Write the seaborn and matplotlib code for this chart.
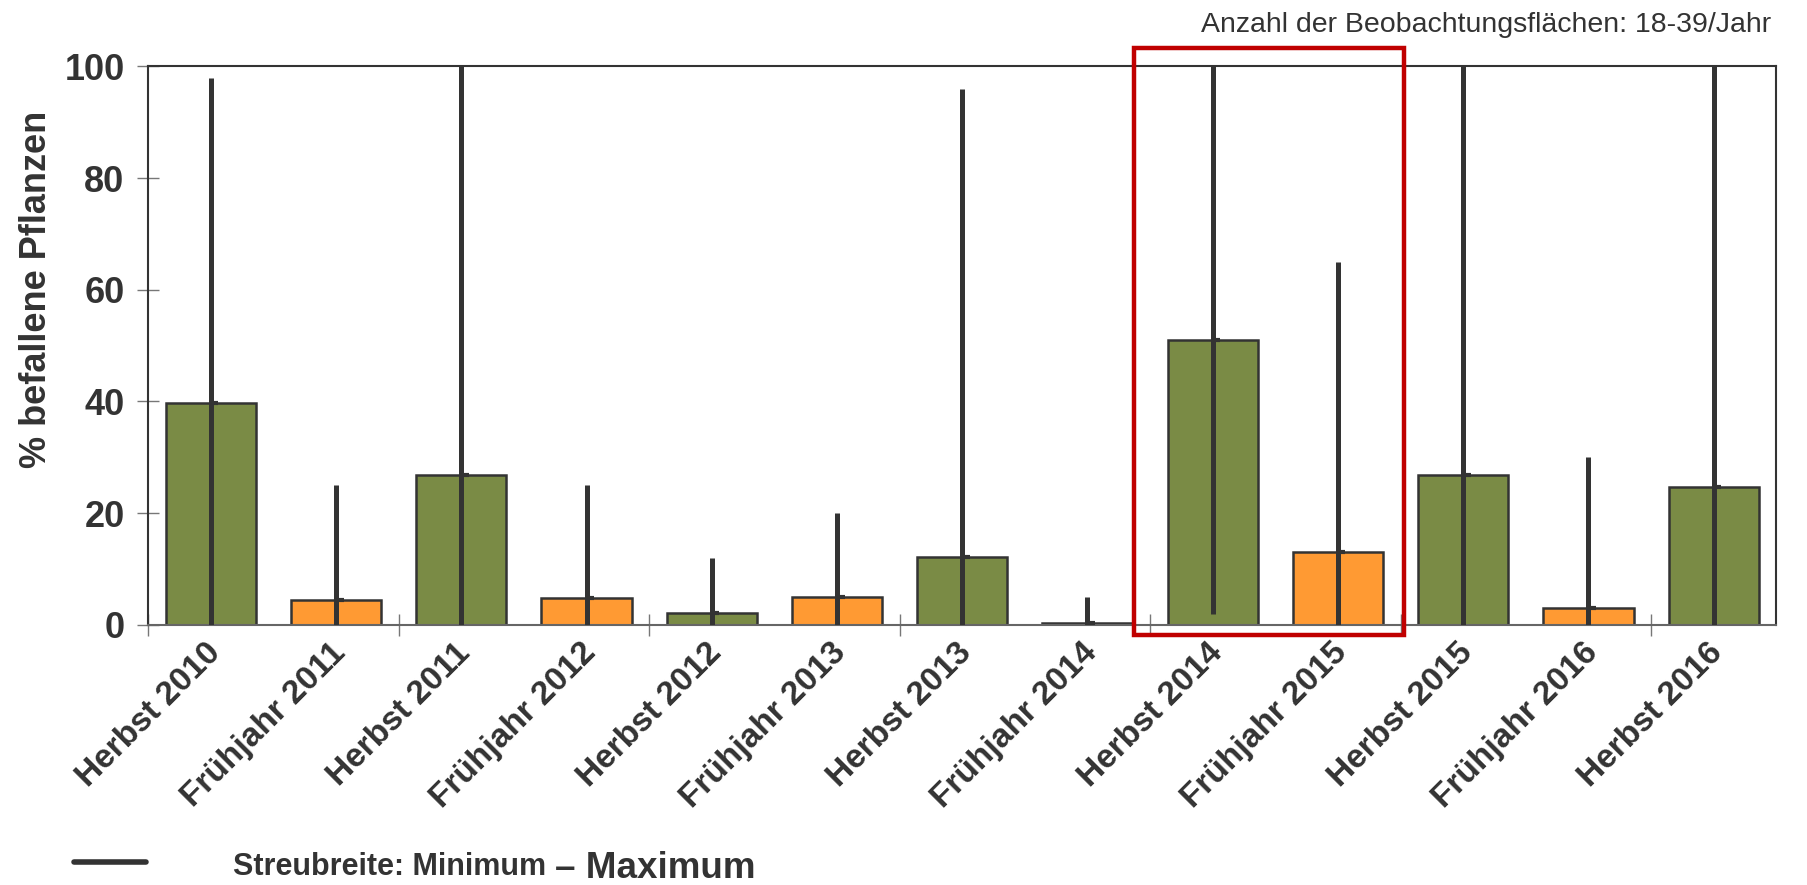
import numpy as np
import pandas as pd
import matplotlib
matplotlib.use("Agg")
import matplotlib.pyplot as plt
import seaborn as sns
from matplotlib import font_manager
from matplotlib.patches import Rectangle

# Daten
labels = ["Herbst 2010", "Frühjahr 2011", "Herbst 2011", "Frühjahr 2012", "Herbst 2012",
          "Frühjahr 2013", "Herbst 2013", "Frühjahr 2014", "Herbst 2014", "Frühjahr 2015",
          "Herbst 2015", "Frühjahr 2016", "Herbst 2016"]
season = ["Herbst", "Frühjahr"] * 6 + ["Herbst"]
mittel = [39.8, 4.5, 26.8, 4.8, 2.2, 5.0, 12.2, 0.4, 51.0, 13.0, 26.8, 3.0, 24.7]
minimum = [0, 0, 0, 0, 0, 0, 0, 0, 2, 0, 0, 0, 0]
maximum = [98, 25, 100, 25, 12, 20, 96, 5, 100, 65, 100, 30, 100]

df = pd.DataFrame({"label": labels, "season": season, "mittel": mittel,
                   "min": minimum, "max": maximum})

sns.set_theme(style="ticks")
plt.rcParams['font.family'] = ['Liberation Sans', 'DejaVu Sans']
dark = "#333333"

# schmale Schrift fuer die Legende, falls vorhanden
names = {f.name for f in font_manager.fontManager.ttflist}
narrow = "Liberation Sans Narrow" in names

fig = plt.figure(figsize=(18.07, 8.85), dpi=100)
ax = fig.add_axes([0.082, 0.294, 0.901, 0.631])

sns.barplot(data=df, x="label", y="mittel", hue="season",
            palette={"Herbst": "#7a8b45", "Frühjahr": "#ff9a33"},
            saturation=1, dodge=False, width=0.72, edgecolor=dark, linewidth=1.8,
            legend=False, ax=ax)

# Streubreite
xs = np.arange(len(labels))
ax.vlines(xs, df["min"], df["max"], color=dark, linewidth=3.6, zorder=5)
ax.hlines(df["mittel"], xs, xs + 0.06, color=dark, linewidth=3.0, zorder=5)

ax.set_xlim(-0.5, len(labels) - 0.5)
ax.set_ylim(0, 100)
ax.set_yticks([0, 20, 40, 60, 80, 100])
ax.set_xticks(np.arange(-0.5, len(labels), 2))
ax.set_xticklabels([""] * len(ax.get_xticks()))
ax.set_xticks(xs - 0.05, minor=True)
ax.set_xticklabels(labels, minor=True, rotation=45, ha="right",
                   rotation_mode="anchor", fontsize=24, fontweight="bold", color=dark)
ax.tick_params(axis="x", which="minor", bottom=True, length=0, pad=9)
ax.tick_params(axis="x", which="major", bottom=True, direction="inout", length=16,
               width=1, colors="#777777")
ax.tick_params(axis="y", left=True, direction="inout", length=16, width=1, colors="#777777",
               labelsize=26, labelcolor=dark, pad=9)
for t in ax.get_yticklabels():
    t.set_fontweight("bold")

ax.set_xlabel("")
ax.set_ylabel("% befallene Pflanzen", fontsize=26, fontweight="bold", color=dark)
ax.yaxis.set_label_coords(-0.058, 0.6)

for s in ax.spines.values():
    s.set_visible(True)
    s.set_color(dark)
    s.set_linewidth(1.5)
ax.spines["bottom"].set_color("#666666")

# Hervorhebung 2014/2015
ax.add_patch(Rectangle((7.37, -1.9), 2.16, 105.2, fill=False, edgecolor="#c00000",
                       linewidth=3.2, clip_on=False, zorder=6))

fig.text(0.98, 0.972, "Anzahl der Beobachtungsflächen: 18-39/Jahr",
         ha="right", va="center", fontsize=20.5, color=dark)

# Legende unten
fig.add_artist(plt.Line2D([0.041, 0.081], [0.026, 0.026], color=dark, linewidth=4))
if narrow:
    fam = ["Liberation Sans Narrow", "DejaVu Sans"]
    s1, s2 = 28, 32
else:
    fam = ["Liberation Sans", "DejaVu Sans"]
    s1, s2 = 22, 26.5
t1 = fig.text(0.129, 0.02, "Streubreite: Minimum ", ha="left", va="center",
              fontsize=s1, fontweight="bold", color=dark, family=fam)
fig.canvas.draw()
bb = t1.get_window_extent().transformed(fig.transFigure.inverted())
fig.text(bb.x1, 0.019, "– Maximum", ha="left", va="center",
         fontsize=s2, fontweight="bold", color=dark, family=fam)

plt.savefig("out.png", dpi=100)
